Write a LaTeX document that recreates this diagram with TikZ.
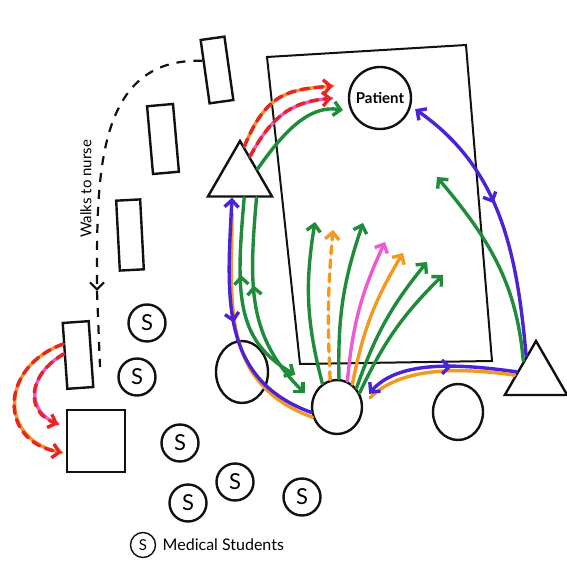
\documentclass[tikz,border=0pt]{standalone}
\usepackage{fontspec}
\setmainfont{Lato}
\usetikzlibrary{positioning, calc, shapes.geometric, arrows.meta, decorations.markings}
\definecolor{PenBlack}{HTML}{111111}
\definecolor{PenGreen}{HTML}{1E8C3A}
\definecolor{PenOrange}{HTML}{F39A1E}
\definecolor{PenRed}{HTML}{E82424}
\definecolor{PenPink}{HTML}{EE5AD2}
\definecolor{PenPurple}{HTML}{4B22D8}

\begin{document}
\begin{tikzpicture}[
    x=1pt, y=1pt,
    >={Straight Barb[length=7pt, width=14pt]},
    outline/.style={draw=PenBlack, line width=2.4pt},
    chair/.style={outline, rectangle, inner sep=0pt},
    bedside/.style={outline, ellipse, inner sep=0pt},
    staff/.style={outline, regular polygon, regular polygon sides=3, inner sep=0pt, minimum size=74pt},
    student/.style={outline, circle, inner sep=0pt, minimum size=37pt, font=\fontsize{22}{22}\selectfont},
    pen/.style={line width=3.4pt, line cap=round},
    dashpen/.style={pen, dash pattern=on 8pt off 6pt},
    midfwd/.style={postaction={decorate}, decoration={markings, mark=at position #1 with {\arrow{>}}}},
    midback/.style={postaction={decorate}, decoration={markings, mark=at position #1 with {\arrowreversed{>}}}},
    walkline/.style={draw=PenBlack, line width=2.2pt, dash pattern=on 9pt off 8pt}
  ]
    \fill[white] (0,0) rectangle (567,581);
    \useasboundingbox (0,0) rectangle (567,581);

    % Bed
    \draw[outline, line width=2pt] (267,524) -- (466,536) -- (492,220) -- (300,217) -- cycle;

    % Nodes
    \node (pat) [outline, circle, minimum size=62pt, inner sep=0pt, font=\bfseries\fontsize{15}{15}\selectfont] at (380,483) {Patient};
    \node (ltri) [staff] at (240,403) {};
    \node (rtri) [staff, minimum size=72pt] at (536,204) {};
    \node (lc) [bedside, minimum width=52pt, minimum height=62pt] at (242,209) {};
    \node (mc) [bedside, minimum width=50pt, minimum height=54pt] at (337,174) {};
    \node (rc) [bedside, minimum width=50pt, minimum height=56pt] at (458,169) {};
    \node (r1) [chair, minimum width=24pt, minimum height=64pt, rotate=8] at (217,511) {};
    \node (r2) [chair, minimum width=26pt, minimum height=68pt, rotate=5] at (163,442) {};
    \node (r3) [chair, minimum width=24pt, minimum height=70pt, rotate=3] at (130,346) {};
    \node (r4) [chair, minimum width=26pt, minimum height=66pt, rotate=4] at (78,226) {};
    \node (sq) [chair, minimum width=58pt, minimum height=62pt] at (96,140) {};
    \node (s1) [student] at (147,258) {S};
    \node (s2) [student] at (137,204) {S};
    \node (s3) [student] at (180,138) {S};
    \node (s4) [student] at (188,78) {S};
    \node (s5) [student] at (235,99) {S};
    \node (s6) [student] at (302,84) {S};
    \node (key) [student, minimum size=25pt, line width=1.4pt, font=\fontsize{15}{15}\selectfont] at (143,36) {S};
    \node (keytext) [right=3pt of key, font=\fontsize{16}{16}\selectfont] {Medical Students};
    \node (walk) [rotate=90, font=\fontsize{15}{15}\selectfont] at (86,392) {Walks to nurse};

    % Free ends
    \coordinate (walkend) at (97,290);
    \coordinate (walkstop) at (100,214);
    \coordinate (gr) at (437,404);
    \coordinate (h1) at (315,359);
    \coordinate (h2) at (333,351);
    \coordinate (h3) at (363,358);
    \coordinate (h4) at (385,339);
    \coordinate (h5) at (403,328);
    \coordinate (h6) at (427,319);
    \coordinate (h7) at (443,306);

    % Walk to nurse
    \draw[walkline, ->] (r1.140) to[out=178, in=90, looseness=1.1] (walkend);
    \draw[walkline] (walkend) -- (walkstop);

    % To the patient
    \draw[pen, PenOrange, shorten >=18pt] (ltri.82) to[out=68, in=185, looseness=1.25] (pat.155);
    \draw[dashpen, PenRed, ->, shorten >=18pt] (ltri.82) to[out=68, in=185, looseness=1.25] (pat.155);
    \draw[pen, PenPink, shorten >=16pt] (ltri.65) to[out=62, in=185, looseness=1.15] (pat.178);
    \draw[dashpen, PenRed, ->, shorten >=16pt] (ltri.65) to[out=62, in=185, looseness=1.15] (pat.178);
    \draw[pen, PenGreen, ->, shorten >=8pt] (ltri.27) to[out=55, in=170] (pat.205);
    \draw[pen, PenPurple, <-, midfwd=0.45, shorten <=5pt] (pat.-15) to[out=-35, in=95] (rtri.115);
    \draw[pen, PenGreen, ->] (rtri.128) to[out=95, in=-50] (gr);

    % Fan from the bedside
    \draw[pen, PenGreen, ->] (mc.122) to[bend left=12] (h1);
    \draw[dashpen, PenOrange, ->] (mc.104) to[bend left=4] (h2);
    \draw[pen, PenGreen, ->] (mc.86) to[bend left=10] (h3);
    \draw[pen, PenPink, ->] (mc.68) to[bend left=10] (h4);
    \draw[pen, PenOrange, ->] (mc.56) to[bend left=10] (h5);
    \draw[pen, PenGreen, ->] (mc.44) to[bend left=10] (h6);
    \draw[pen, PenGreen, ->] (mc.32) to[bend left=10] (h7);

    % Left side
    \draw[pen, PenGreen, ->, midback=0.35, shorten >=26pt] (ltri.-78) to[out=-95, in=150, looseness=1.2] (mc.135);
    \draw[pen, PenGreen, ->, midback=0.4, shorten >=10pt] (ltri.-50) to[out=-95, in=135, looseness=1.1] (mc.165);
    \draw[pen, PenOrange, shorten <=16pt] (ltri.-112) to[out=-90, in=160, looseness=1.1] (mc.203);
    \draw[pen, PenPurple, <-, midfwd=0.5] (ltri.-112) to[out=-93, in=160, looseness=1.1] (mc.192);

    % Bottom right
    \draw[pen, PenOrange, shorten >=10pt] (rtri.175) to[out=172, in=45, looseness=0.9] (mc.5);
    \draw[pen, PenPurple, ->, midback=0.4, shorten >=10pt] (rtri.165) to[out=172, in=50, looseness=0.9] (mc.12);

    % Chair to desk
    \draw[pen, PenOrange, shorten >=4pt] (r4.140) to[out=200, in=170, looseness=1.6] (sq.202);
    \draw[dashpen, PenRed, ->, shorten >=4pt] (r4.140) to[out=200, in=170, looseness=1.6] (sq.202);
    \draw[pen, PenPink, shorten >=8pt] (r4.172) to[out=210, in=160, looseness=1.5] (sq.155);
    \draw[dashpen, PenRed, ->, shorten >=8pt] (r4.172) to[out=210, in=160, looseness=1.5] (sq.155);
  \end{tikzpicture}
\end{document}
